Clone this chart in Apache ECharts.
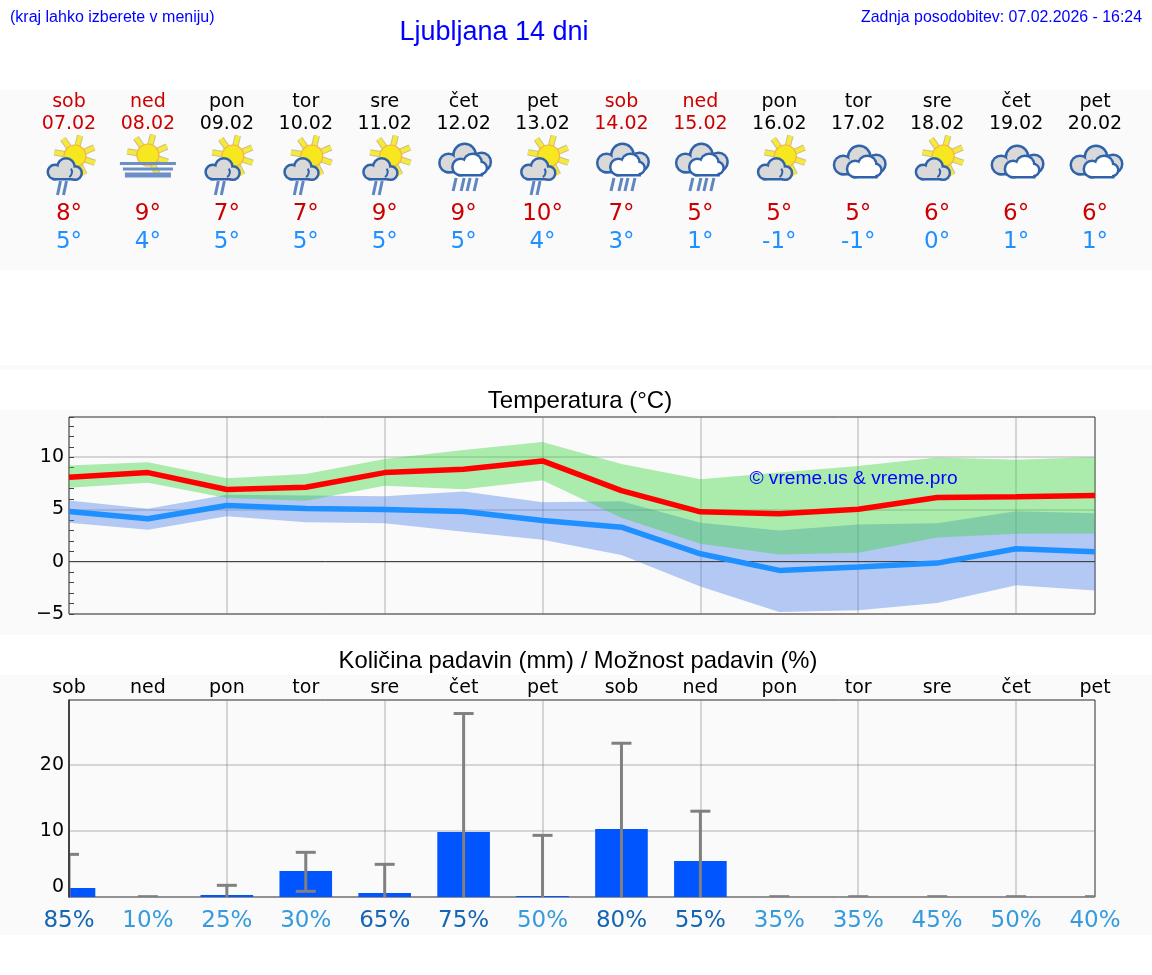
<!DOCTYPE html>
<html><head><meta charset="utf-8">
<style>html,body{margin:0;padding:0;background:#fff}#c{width:1152px;height:975px}</style>
<script src="https://cdn.jsdelivr.net/npm/echarts@6/dist/echarts.min.js"></script>
</head><body><div id="c"></div>
<script>
const weekdays=['sob','ned','pon','tor','sre','čet','pet','sob','ned','pon','tor','sre','čet','pet'];
const dates=['07.02','08.02','09.02','10.02','11.02','12.02','13.02','14.02','15.02','16.02','17.02','18.02','19.02','20.02'];
const weekend=[1,1,0,0,0,0,0,1,1,0,0,0,0,0];
const icons=['sunrain','fog','sunrain','sunrain','sunrain','rain','sunrain','rain','rain','suncloud','cloud','suncloud','cloud','cloud'];
const hiLabels=[8,9,7,7,9,9,10,7,5,5,5,6,6,6];
const loLabels=[5,4,5,5,5,5,4,3,1,-1,-1,0,1,1];
const tMax=[8.09,8.53,6.91,7.13,8.53,8.85,9.65,6.8,4.78,4.59,5.03,6.15,6.21,6.34];
const tMin=[4.81,4.11,5.38,5.1,5.0,4.81,3.95,3.31,0.76,-0.83,-0.51,-0.13,1.24,0.96];
const tMaxHi=[9.2,9.52,8.0,8.4,9.84,10.7,11.46,9.36,7.9,8.53,9.17,9.97,9.75,10.03];
const tMaxLo=[7.07,7.55,6.11,5.83,7.26,6.94,7.8,4.2,1.72,0.7,0.86,2.32,2.68,2.7];
const tMinHi=[5.86,5.06,6.4,6.34,6.27,6.72,5.7,5.8,3.73,3.0,3.57,3.69,4.84,4.65];
const tMinLo=[3.73,3.06,4.36,3.79,3.69,2.87,2.1,0.64,-2.36,-4.8,-4.65,-3.95,-2.26,-2.74];
const rain=[1.36,0,0.3,3.94,0.6,9.85,0.15,10.3,5.45,0,0,0,0,0];
const rainHi=[6.46,0.05,1.77,6.77,4.95,27.8,9.34,23.3,13,0.05,0.05,0.05,0.05,0.05];
const rainLo=[0,0,0,0.86,0,0,0,0,0,0,0,0,0,0];
const chance=[85,10,25,30,65,75,50,80,55,35,35,45,50,40];

const DJ='"DejaVu Sans"', LS='"Liberation Sans"';
const GRID='rgba(128,128,128,0.3)';
const BLUE='#3163ab', GF='#d9d9d9';

function blob(list,base,fill,ox,oy){
  const r={type:'rect',shape:{x:ox+base[0],y:oy+base[1],width:base[2],height:base[3]}};
  const o=[];
  list.forEach(c=>o.push({type:'circle',shape:{cx:ox+c[0],cy:oy+c[1],r:c[2]},style:{fill:BLUE,stroke:BLUE,lineWidth:5}}));
  o.push(Object.assign({},r,{style:{fill:BLUE,stroke:BLUE,lineWidth:5}}));
  list.forEach(c=>o.push({type:'circle',shape:{cx:ox+c[0],cy:oy+c[1],r:c[2]},style:{fill:fill}}));
  o.push(Object.assign({},r,{style:{fill:fill}}));
  return o;
}
function sun(cx,cy){
  const o=[];
  [-170,-125,-76,-24,19,63].forEach(a=>{
    const t=a*Math.PI/180;
    const s={x1:cx+Math.cos(t)*10,y1:cy+Math.sin(t)*10,x2:cx+Math.cos(t)*21,y2:cy+Math.sin(t)*21};
    o.push({type:'line',shape:s,style:{stroke:'#c4bf98',lineWidth:6.4}});
    o.push({type:'line',shape:s,style:{stroke:'#f6e93a',lineWidth:4.4}});
  });
  o.push({type:'circle',shape:{cx:cx,cy:cy,r:11},style:{fill:'#f6e71e',stroke:'#f5b54a',lineWidth:1.2}});
  return o;
}
function streaks(list,y0,y1){
  return list.map(x=>({type:'line',shape:{x1:x+1.5,y1:y0,x2:x-1.5,y2:y1},style:{stroke:'#5f86c0',lineWidth:3}}));
}
function smallCloud(x,y){
  return blob([[8,15,6],[19,10,7.5],[28,16,5.5]],[8,15,20,6],GF,x-22,y).concat([
    {type:'arc',shape:{cx:x-3,cy:y+15,r:6,startAngle:-0.6,endAngle:1.0},style:{fill:null,stroke:BLUE,lineWidth:2}}]);
}
function bigCloud(x,dy){
  let o=blob([[-15,19,8],[1,11,10],[18,18,8]],[-15,18,33,9],GF,x,144+dy);
  o=o.concat(blob([[-3,23,7],[9,19,8],[17,24,5]],[-3,24,20,6],'#ffffff',x,144+dy));
  return o;
}
function icon(kind,x){
  if(kind==='fog'){
    return sun(x,155).concat([
      {type:'rect',shape:{x:x-28,y:162,width:56,height:3},style:{fill:'#6c8fc6'}},
      {type:'rect',shape:{x:x-25,y:167.5,width:50,height:3},style:{fill:'#6c8fc6'}},
      {type:'rect',shape:{x:x-23,y:172.5,width:46,height:5},style:{fill:'#6c8fc6'}}]);
  }
  if(kind==='sunrain'||kind==='suncloud'){
    let o=sun(x+6,156).concat(smallCloud(x,157));
    if(kind==='sunrain')o=o.concat(streaks([x-10,x-4],181,195));
    return o;
  }
  if(kind==='rain')return bigCloud(x,0).concat(streaks([x-9,x-1,x+5,x+12],178,191));
  return bigCloud(x,2);
}
function renderTop(params,api){
  const i=params.dataIndex;
  const x=api.coord([i,0])[0];
  const col=weekend[i]?'#cc0000':'#000000';
  const t=(s,y,f,c)=>({type:'text',style:{text:s,x:x,y:y,fill:c,font:f,align:'center',verticalAlign:'middle'}});
  return {type:'group',children:[
    t(weekdays[i],102,'19px '+DJ,col),
    t(dates[i],124,'19px '+DJ,col),
    ...icon(icons[i],x),
    t(hiLabels[i]+'°',214,'23px '+DJ,'#cc0000'),
    t(loLabels[i]+'°',242,'23px '+DJ,'#1e90ff')
  ]};
}
function band(hi,lo,fill){
  return {type:'custom',xAxisIndex:1,yAxisIndex:1,data:[0],silent:true,z:3,
    renderItem:(p,api)=>{
      const pts=[];
      hi.forEach((v,i)=>pts.push(api.coord([i,v])));
      for(let i=lo.length-1;i>=0;i--)pts.push(api.coord([i,lo[i]]));
      return {type:'polygon',shape:{points:pts},style:{fill:fill}};
    }};
}
function renderBar(params,api){
  const i=params.dataIndex;
  const a=api.coord([i,rain[i]]),b=api.coord([i,0]);
  const w=api.size([1,0])[0]*2/3;
  return {type:'rect',shape:{x:a[0]-w/2,y:a[1],width:w,height:b[1]-a[1]},style:{fill:'#0055ff'}};
}
function renderErr(params,api){
  const i=params.dataIndex;
  const a=api.coord([i,rainHi[i]]),b=api.coord([i,rainLo[i]]);
  const st={stroke:'#808080',lineWidth:3};
  const kids=[{type:'line',shape:{x1:a[0],y1:a[1],x2:b[0],y2:b[1]},style:st},
    {type:'line',shape:{x1:a[0]-10,y1:a[1],x2:a[0]+10,y2:a[1]},style:st}];
  if(rainLo[i]>0)kids.push({type:'line',shape:{x1:b[0]-10,y1:b[1],x2:b[0]+10,y2:b[1]},style:st});
  return {type:'group',children:kids};
}
const xSplit={show:true,interval:(i)=>i%2===0,lineStyle:{color:GRID,width:2}};
const panel=(y,h)=>({type:'rect',z:-10,shape:{x:0,y:y,width:1152,height:h},style:{fill:'#fafafa'},silent:true});
const ttl=(s,x,y,size,col,align)=>({text:s,left:x,top:y,padding:0,textAlign:align,textVerticalAlign:'middle',textStyle:{color:col,fontFamily:LS,fontSize:size,fontWeight:'normal'}});

const chart=echarts.init(document.getElementById('c'),null,{renderer:'canvas'});
chart.setOption({
  animation:false,backgroundColor:'#ffffff',
  title:[
    ttl('(kraj lahko izberete v meniju)',10,18,16,'#0000ff','left'),
    ttl('Ljubljana 14 dni',494,33,27,'#0000ff','center'),
    ttl('Zadnja posodobitev: 07.02.2026 - 16:24',1142,18,15.9,'#0000ff','right'),
    ttl('Temperatura (°C)',580,401,24,'#000000','center'),
    ttl('Količina padavin (mm) / Možnost padavin (%)',578,661,23.8,'#000000','center'),
    ttl('© vreme.us & vreme.pro',853.5,479,19.2,'#0000ff','center')
  ],
  graphic:{elements:[panel(90,180),panel(365,5),panel(410,225),panel(675,260)]},
  grid:[
    {left:69,right:57,top:90,height:180,show:false},
    {left:69,right:57,top:417,height:197,show:true,borderColor:'#2b2b2b',borderWidth:1,backgroundColor:'transparent'},
    {left:69,right:57,top:700,height:197,show:true,borderColor:'#2b2b2b',borderWidth:1,backgroundColor:'transparent'}
  ],
  xAxis:[
    {type:'category',gridIndex:0,data:weekdays,boundaryGap:false,show:false},
    {type:'category',gridIndex:1,data:weekdays,boundaryGap:false,axisLine:{show:false},axisTick:{show:false},axisLabel:{show:false},splitLine:xSplit},
    {type:'category',gridIndex:2,data:chance.map(v=>v+'%'),boundaryGap:false,position:'bottom',axisLine:{show:false},axisTick:{show:false},splitLine:xSplit,
      axisLabel:{interval:0,margin:13,fontFamily:DJ,fontSize:23,color:(v,i)=>chance[i]>=55?'#1565b5':'#359bdc'}},
    {type:'category',gridIndex:2,data:weekdays,boundaryGap:false,position:'top',axisLine:{show:false},axisTick:{show:false},splitLine:{show:false},
      axisLabel:{interval:0,margin:2,fontFamily:DJ,fontSize:19,color:'#000'}}
  ],
  yAxis:[
    {type:'value',gridIndex:0,min:0,max:1,show:false},
    {type:'value',gridIndex:1,min:-5,max:13.85,interval:5,axisLine:{show:false},axisTick:{show:false},
      splitLine:{show:true,showMaxLine:false,lineStyle:{color:GRID,width:2}},
      axisLabel:{showMaxLabel:false,margin:5,padding:[6,0,0,0],fontFamily:DJ,fontSize:19,color:'#000',formatter:v=>String(v).replace('-','−')}},
    {type:'value',gridIndex:1,min:-5,max:13.85,interval:1,position:'left',axisLine:{show:false},axisLabel:{show:false},splitLine:{show:false},
      axisTick:{show:true,inside:true,length:5,lineStyle:{color:'#444',width:1}}},
    {type:'value',gridIndex:2,min:0,max:29.85,interval:10,axisLine:{show:false},axisTick:{show:false},
      splitLine:{show:true,showMinLine:false,showMaxLine:false,lineStyle:{color:GRID,width:2}},
      axisLabel:{showMaxLabel:false,margin:5,padding:[6,0,0,0],fontFamily:DJ,fontSize:19,color:'#000',verticalAlignMinLabel:'bottom'}},
    {type:'value',gridIndex:2,min:0,max:29.85,interval:10,position:'left',z:10,axisTick:{show:false},axisLabel:{show:false},splitLine:{show:false},
      axisLine:{show:true,onZero:false,lineStyle:{color:'#2b2b2b',width:1.5}}}
  ],
  series:[
    {type:'custom',xAxisIndex:0,yAxisIndex:0,data:weekdays.map((d,i)=>[i,0]),renderItem:renderTop,silent:true,z:5},
    band(tMinHi,tMinLo,'rgba(75,125,235,0.4)'),
    band(tMaxHi,tMaxLo,'rgba(52,212,56,0.4)'),
    {type:'line',xAxisIndex:1,yAxisIndex:1,data:tMax,showSymbol:false,smooth:false,silent:true,z:6,lineStyle:{color:'#ff0000',width:5.5},
      markLine:{silent:true,symbol:'none',label:{show:false},lineStyle:{color:'#444',width:1,type:'solid'},data:[{yAxis:0}]}},
    {type:'line',xAxisIndex:1,yAxisIndex:1,data:tMin,showSymbol:false,smooth:false,silent:true,z:6,lineStyle:{color:'#1e90ff',width:5.5}},
    {type:'custom',xAxisIndex:2,yAxisIndex:3,data:rain.map((d,i)=>[i,d]),renderItem:renderBar,clip:true,silent:true,z:4},
    {type:'custom',xAxisIndex:2,yAxisIndex:3,data:rain.map((d,i)=>[i,rainHi[i]]),renderItem:renderErr,clip:true,silent:true,z:5}
  ]
});
</script></body></html>
